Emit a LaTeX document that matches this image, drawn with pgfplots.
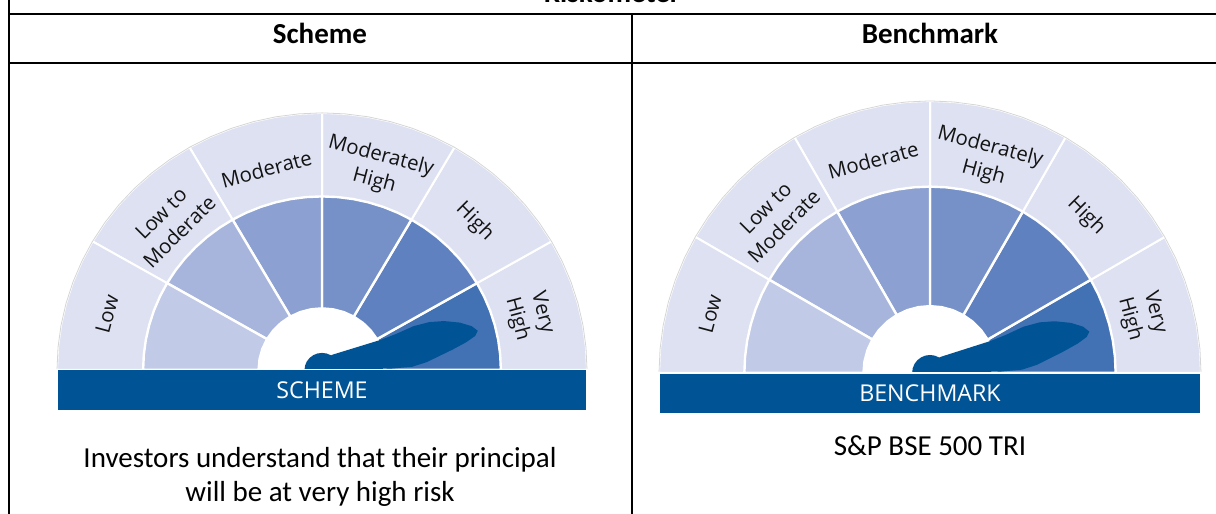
\documentclass[border=0pt]{standalone}
\usepackage{pgfplots}
\pgfplotsset{compat=1.18}
\usepgfplotslibrary{polar}
\usepackage{fontspec}
\setmainfont{Carlito}
\newfontfamily\gfont{Open Sans}
\definecolor{lav}{RGB}{221,225,242}
\definecolor{c1}{RGB}{193,202,230}
\definecolor{c2}{RGB}{167,181,221}
\definecolor{c3}{RGB}{140,161,209}
\definecolor{c4}{RGB}{117,145,200}
\definecolor{c5}{RGB}{95,129,192}
\definecolor{c6}{RGB}{66,114,179}
\definecolor{navy}{RGB}{0,84,150}

% #1 inner ring radius, #2 hub radius, #3 bar depth, #4 bar label
\newcommand{\gauge}[4]{%
 % outer label ring
 \addplot[data cs=polar, fill=lav, draw=white, line width=1pt] coordinates {(0,0) (0,1) (5,1) (10,1) (15,1) (20,1) (25,1) (30,1)} -- cycle;
 \addplot[data cs=polar, fill=lav, draw=white, line width=1pt] coordinates {(0,0) (30,1) (35,1) (40,1) (45,1) (50,1) (55,1) (60,1)} -- cycle;
 \addplot[data cs=polar, fill=lav, draw=white, line width=1pt] coordinates {(0,0) (60,1) (65,1) (70,1) (75,1) (80,1) (85,1) (90,1)} -- cycle;
 \addplot[data cs=polar, fill=lav, draw=white, line width=1pt] coordinates {(0,0) (90,1) (95,1) (100,1) (105,1) (110,1) (115,1) (120,1)} -- cycle;
 \addplot[data cs=polar, fill=lav, draw=white, line width=1pt] coordinates {(0,0) (120,1) (125,1) (130,1) (135,1) (140,1) (145,1) (150,1)} -- cycle;
 \addplot[data cs=polar, fill=lav, draw=white, line width=1pt] coordinates {(0,0) (150,1) (155,1) (160,1) (165,1) (170,1) (175,1) (180,1)} -- cycle;
 \addplot[data cs=polar, draw=black!16, line width=0.4pt] coordinates {(0,1) (5,1) (10,1) (15,1) (20,1) (25,1) (30,1) (35,1) (40,1) (45,1) (50,1) (55,1) (60,1) (65,1) (70,1) (75,1) (80,1) (85,1) (90,1) (95,1) (100,1) (105,1) (110,1) (115,1) (120,1) (125,1) (130,1) (135,1) (140,1) (145,1) (150,1) (155,1) (160,1) (165,1) (170,1) (175,1) (180,1)};
 % coloured risk levels
 \addplot[data cs=polar, fill=c6, draw=white, line width=1.2pt] coordinates {(0,0) (0,#1) (5,#1) (10,#1) (15,#1) (20,#1) (25,#1) (30,#1)} -- cycle;
 \addplot[data cs=polar, fill=c5, draw=white, line width=1.2pt] coordinates {(0,0) (30,#1) (35,#1) (40,#1) (45,#1) (50,#1) (55,#1) (60,#1)} -- cycle;
 \addplot[data cs=polar, fill=c4, draw=white, line width=1.2pt] coordinates {(0,0) (60,#1) (65,#1) (70,#1) (75,#1) (80,#1) (85,#1) (90,#1)} -- cycle;
 \addplot[data cs=polar, fill=c3, draw=white, line width=1.2pt] coordinates {(0,0) (90,#1) (95,#1) (100,#1) (105,#1) (110,#1) (115,#1) (120,#1)} -- cycle;
 \addplot[data cs=polar, fill=c2, draw=white, line width=1.2pt] coordinates {(0,0) (120,#1) (125,#1) (130,#1) (135,#1) (140,#1) (145,#1) (150,#1)} -- cycle;
 \addplot[data cs=polar, fill=c1, draw=white, line width=1.2pt] coordinates {(0,0) (150,#1) (155,#1) (160,#1) (165,#1) (170,#1) (175,#1) (180,#1)} -- cycle;
 % hub
 \addplot[data cs=polar, fill=white, draw=none] coordinates {(0,#2) (10,#2) (20,#2) (30,#2) (40,#2) (50,#2) (60,#2) (70,#2) (80,#2) (90,#2) (100,#2) (110,#2) (120,#2) (130,#2) (140,#2) (150,#2) (160,#2) (170,#2) (180,#2)} -- cycle;
 % needle
 \addplot[fill=navy, draw=none] coordinates {(0.036,0.058) (0.225,0.118) (0.280,0.140) (0.345,0.170) (0.405,0.186) (0.460,0.190) (0.520,0.184) (0.565,0.170) (0.588,0.152) (0.578,0.132) (0.545,0.108) (0.495,0.080) (0.445,0.055) (0.395,0.030) (0.340,0.012) (0.260,0.005) (0,0)} -- cycle;
 \addplot[data cs=polar, fill=navy, draw=none] coordinates {(0,0.066) (15,0.066) (30,0.066) (45,0.066) (60,0.066) (75,0.066) (90,0.066) (105,0.066) (120,0.066) (135,0.066) (150,0.066) (165,0.066) (180,0.066)} -- cycle;
 % bar
 \addplot[fill=navy, draw=white, line width=0.6pt] coordinates {(-1,0) (1,0) (1,-#3) (-1,-#3)} -- cycle;
 \node[white, font=\gfont\fontsize{11.6}{13}\selectfont] at (axis cs:0,-#3/2) {#4};
 % labels
 \begin{scope}[every node/.style={font=\gfont\fontsize{10.2}{13}\selectfont, align=center, text=black!92, inner sep=1pt}]
 \node[rotate=75]  at (axis cs:{0.84*cos(165)},{0.84*sin(165)}) {Low};
 \node[rotate=45]  at (axis cs:{0.81*cos(135)},{0.81*sin(135)}) {Low to\\Moderate};
 \node[rotate=15]  at (axis cs:{0.81*cos(105)},{0.81*sin(105)}) {Moderate};
 \node[rotate=-15] at (axis cs:{0.81*cos(75)},{0.81*sin(75)}) {Moderately\\High};
 \node[rotate=-45] at (axis cs:{0.815*cos(45)},{0.815*sin(45)}) {High};
 \node[rotate=-75] at (axis cs:{0.81*cos(15)},{0.81*sin(15)}) {Very\\High};
 \end{scope}
}

\begin{document}
\begin{tikzpicture}
\begin{scope}[x=0.5pt,y=-0.5pt]
\useasboundingbox (0,0) rectangle (1216,514);
% table rules
\draw[line width=1pt] (9,-5) -- (9,520);
\draw[line width=1pt] (9,13.7) -- (1225,13.7);
\draw[line width=1pt] (9,63.3) -- (1225,63.3);
\draw[line width=1pt] (632,13.7) -- (632,520);
% texts
\node[anchor=base, font=\bfseries\fontsize{14.5}{17}\selectfont] at (612,3) {Riskometer};
\node[anchor=base, font=\bfseries\fontsize{14.5}{17}\selectfont] at (320,43) {Scheme};
\node[anchor=base, font=\bfseries\fontsize{14.5}{17}\selectfont] at (930,43) {Benchmark};
\node[anchor=base, font=\fontsize{14.5}{17}\selectfont] at (320,467) {Investors understand that their principal};
\node[anchor=base, font=\fontsize{14.5}{17}\selectfont] at (320,501) {will be at very high risk};
\node[anchor=base, font=\fontsize{14.5}{17}\selectfont] at (930,455) {S\&P BSE 500 TRI};
\end{scope}

\begin{axis}[at={(28.5pt,-205.5pt)}, anchor=south west, hide axis, clip=false,
  scale only axis, x=132.5pt, y=128.5pt, xmin=-1, xmax=1, ymin=-0.16, ymax=1,
  enlargelimits=false]
\gauge{0.675}{0.244}{0.16}{SCHEME}
\end{axis}

\begin{axis}[at={(329.5pt,-207pt)}, anchor=south west, hide axis, clip=false,
  scale only axis, x=135.5pt, y=136pt, xmin=-1, xmax=1, ymin=-0.151, ymax=1,
  enlargelimits=false]
\gauge{0.685}{0.25}{0.151}{BENCHMARK}
\end{axis}
\end{tikzpicture}
\end{document}
